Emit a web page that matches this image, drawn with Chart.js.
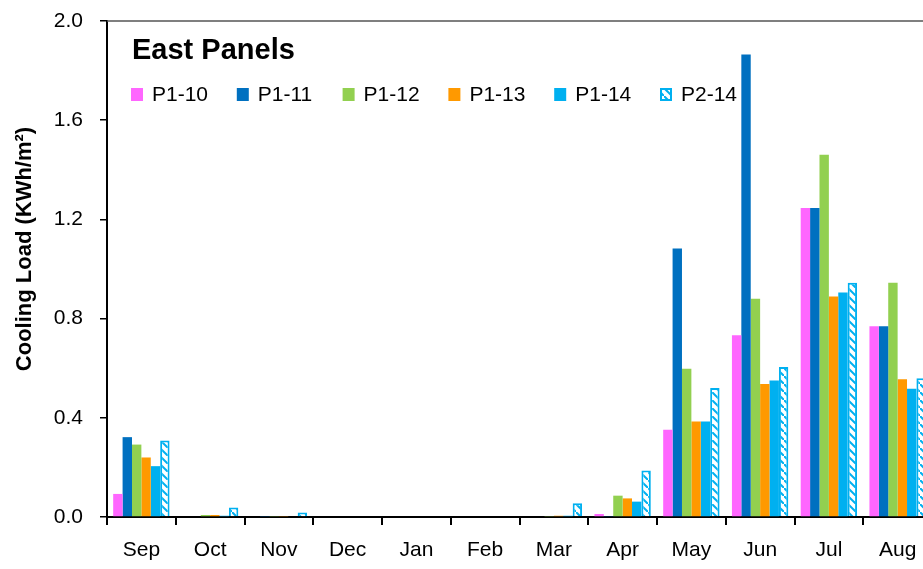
<!DOCTYPE html>
<html>
<head>
<meta charset="utf-8">
<script src="https://cdn.jsdelivr.net/npm/chart.js@4.4.1/dist/chart.umd.min.js"></script>
<style>
  html, body { margin: 0; padding: 0; background: #fff; overflow: hidden; }
  #wrap { width: 936px; height: 569px; }
</style>
</head>
<body>
<div id="wrap"><canvas id="myChart" width="936" height="569"></canvas></div>
<script>
// months
const months = ["Sep", "Oct", "Nov", "Dec", "Jan", "Feb", "Mar", "Apr", "May", "Jun", "Jul", "Aug"];

// cooling load, KWh/m2
const p1_10 = [0.093, 0, 0, 0, 0, 0, 0, 0.012, 0.352, 0.733, 1.246, 0.769];
const p1_11 = [0.322, 0, 0.002, 0, 0, 0, 0, 0.002, 1.083, 1.865, 1.246, 0.769];
const p1_12 = [0.292, 0.008, 0.002, 0, 0, 0, 0.002, 0.086, 0.598, 0.880, 1.461, 0.945];
const p1_13 = [0.240, 0.008, 0.002, 0, 0, 0, 0.005, 0.075, 0.385, 0.536, 0.889, 0.555];
const p1_14 = [0.205, 0.005, 0.003, 0, 0, 0, 0.005, 0.062, 0.385, 0.550, 0.905, 0.517];
const p2_14 = [0.308, 0.038, 0.018, 0, 0, 0, 0.055, 0.187, 0.520, 0.605, 0.945, 0.559];

const seriesNames = ["P1-10", "P1-11", "P1-12", "P1-13", "P1-14", "P2-14"];
const yTicks = [0, 0.4, 0.8, 1.2, 1.6, 2.0];

const FONT = "'Liberation Sans', Arial, sans-serif";

// 빗금 패턴 (P2-14)
function makeHatch() {
  const c = document.createElement("canvas");
  c.width = 8;
  c.height = 8;
  const g = c.getContext("2d");
  g.fillStyle = "#ffffff";
  g.fillRect(0, 0, 8, 8);
  g.strokeStyle = "#00b0f0";
  g.lineWidth = 2;
  g.beginPath();
  g.moveTo(-2, -2);
  g.lineTo(10, 10);
  g.stroke();
  return g.createPattern(c, "repeat");
}
const hatch = makeHatch();

// 제목 + 범례 + 축 제목 (플롯 안쪽)
const insideLegend = {
  id: "insideLegend",
  afterDraw(chart) {
    const ctx = chart.ctx;
    const area = chart.chartArea;
    ctx.save();
    // top border
    ctx.strokeStyle = "#555";
    ctx.lineWidth = 1.5;
    ctx.beginPath();
    ctx.moveTo(area.left, area.top);
    ctx.lineTo(area.right, area.top);
    ctx.stroke();

    ctx.fillStyle = "#000";
    ctx.font = "bold 29px " + FONT;
    ctx.textBaseline = "middle";
    ctx.fillText("East Panels", 132, 51);

    ctx.font = "21px " + FONT;
    chart.data.datasets.forEach((ds, i) => {
      const x = 131 + i * 105.8;
      const y = 88;
      ctx.fillStyle = ds.backgroundColor;
      ctx.fillRect(x, y, 12, 13);
      if (ds.borderWidth) {
        ctx.strokeStyle = ds.borderColor;
        ctx.lineWidth = 2;
        ctx.strokeRect(x + 1, y + 1, 10, 11);
      }
      ctx.fillStyle = "#000";
      ctx.fillText(ds.label, x + 21, y + 7);
    });

    // y axis title
    ctx.translate(25, 249);
    ctx.rotate(-Math.PI / 2);
    ctx.textAlign = "center";
    ctx.font = "bold 22px " + FONT;
    ctx.fillStyle = "#000";
    ctx.fillText("Cooling Load (KWh/m²)", 0, 0);
    ctx.restore();
  },
};

const seriesData = [p1_10, p1_11, p1_12, p1_13, p1_14, p2_14];
const colors = ["#ff66ff", "#0070c0", "#92d050", "#ff9900", "#00b0f0", hatch];

const datasets = seriesData.map((d, i) => {
  const ds = {
    label: seriesNames[i],
    data: d,
    backgroundColor: colors[i],
    borderWidth: 0,
    barPercentage: 1.0,
    categoryPercentage: 0.82,
  };
  if (i === 5) {
    ds.borderColor = "#00b0f0";
    ds.borderWidth = 2;
  }
  return ds;
});

const context = document.getElementById("myChart").getContext("2d");
const myChart = new Chart(context, {
  type: "bar",
  data: { labels: months, datasets: datasets },
  plugins: [insideLegend],
  options: {
    responsive: false,
    animation: false,
    layout: { padding: { top: 21, right: 4, left: 0, bottom: 0 } },
    plugins: {
      legend: { display: false },
      title: { display: false },
      tooltip: { enabled: false },
    },
    scales: {
      x: {
        grid: {
          display: true,
          drawOnChartArea: false,
          drawTicks: true,
          tickLength: 8,
          color: "#000",
          lineWidth: 2,
          offset: true,
        },
        border: { display: true, color: "#000", width: 2 },
        ticks: {
          color: "#000",
          font: { family: FONT, size: 21 },
          padding: 13,
          maxRotation: 0,
        },
        afterFit(scale) {
          scale.height = 52;
          scale.paddingLeft = 0;
          scale.paddingRight = 0;
        },
      },
      y: {
        min: 0,
        max: 2.0,
        afterBuildTicks(scale) {
          scale.ticks = yTicks.map((v) => ({ value: v }));
        },
        grid: {
          display: true,
          drawOnChartArea: false,
          drawTicks: true,
          tickLength: 7,
          color: "#000",
          lineWidth: 1.5,
        },
        border: { display: true, color: "#000", width: 2 },
        ticks: {
          color: "#000",
          font: { family: FONT, size: 21 },
          padding: 17,
          callback: (v) => Number(v).toFixed(1),
        },
        afterFit(scale) {
          scale.width = 107;
          scale.paddingTop = 0;
          scale.paddingBottom = 0;
        },
      },
    },
  },
});
</script>
</body>
</html>
